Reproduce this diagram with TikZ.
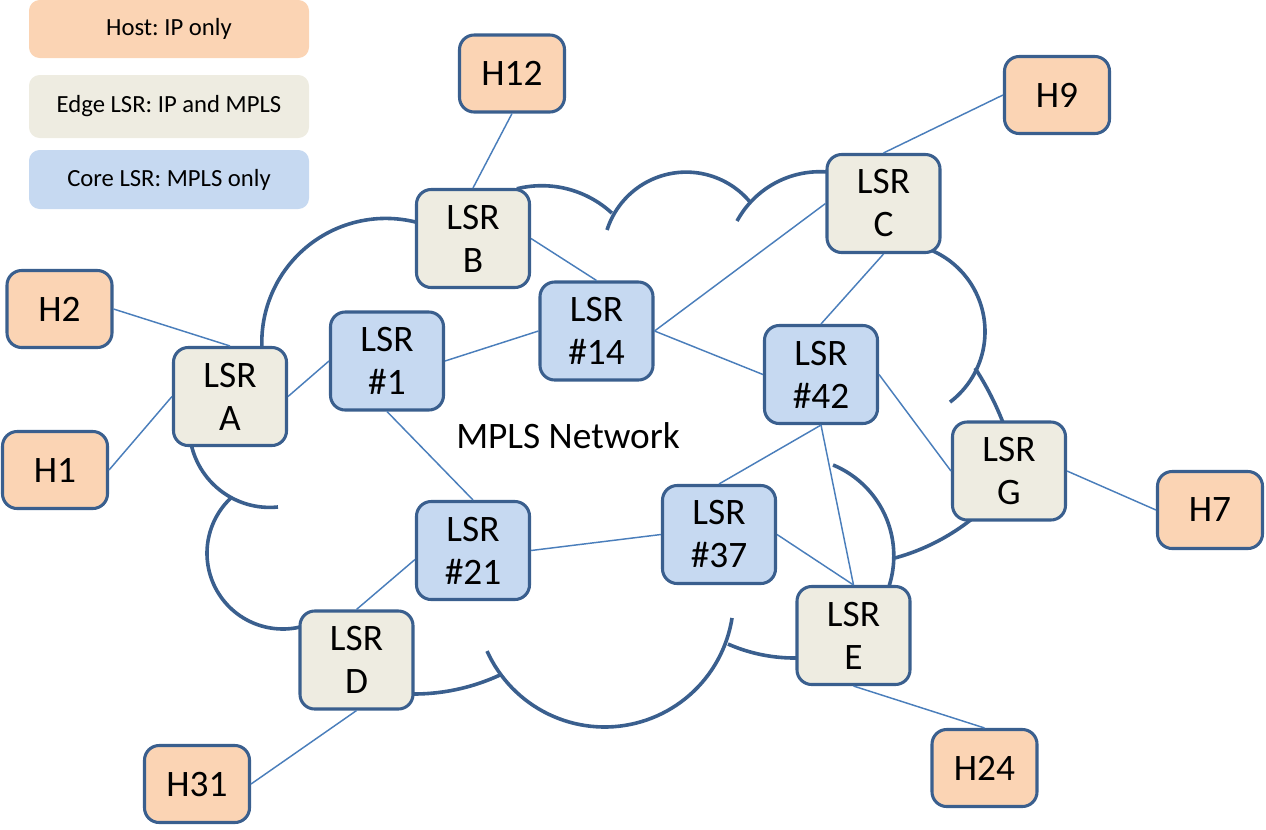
\documentclass[tikz,border=0pt]{standalone}
\usepackage{fontspec}
\setmainfont{Carlito}
\frenchspacing
\definecolor{cloudblue}{HTML}{3A5F8E}
\definecolor{boxblue}{HTML}{3A5F8E}
\definecolor{linkblue}{HTML}{4A7EBB}
\definecolor{hostfill}{HTML}{FBD4B4}
\definecolor{edgefill}{HTML}{EEECE1}
\definecolor{corefill}{HTML}{C6D9F1}
\newcommand\lsrfont{\fontsize{28}{32.25}\selectfont}
\newcommand\legfont{\fontsize{18.5}{22}\selectfont}
\newcommand\netfont{\fontsize{28}{32}\selectfont}
% cloud arc: centre x, centre y, radius, start angle, end angle (picture coordinates, y down)
\newcommand\cloudarc[5]{\draw[cloudline] plot[domain=#4:#5, samples=60, variable=\t] ({#1+#3*cos(\t)},{#2+#3*sin(\t)});}
\begin{document}
\begin{tikzpicture}[x=0.75pt,y=-0.75pt,
  cloudline/.style={draw=cloudblue, line width=2.7pt},
  link/.style={draw=linkblue, line width=1.1pt},
  lsrbase/.style={draw=boxblue, line width=2.3pt, rounded corners=11pt,
    minimum width=84.75pt, minimum height=73.5pt, align=center,
    font=\lsrfont, inner sep=0pt},
  edgelsr/.style={lsrbase, fill=edgefill},
  corelsr/.style={lsrbase, fill=corefill},
  hostbox/.style={draw=boxblue, line width=2.3pt, rounded corners=11pt,
    minimum width=78.75pt, minimum height=57.75pt, fill=hostfill,
    font=\lsrfont, inner sep=0pt},
  legendbox/.style={rounded corners=8pt, minimum width=210pt,
    font=\legfont, inner sep=0pt}]
\useasboundingbox (0,0) rectangle (1266,829);

% legend
\node[legendbox, fill=hostfill, minimum height=43.5pt] (lhost) at (169,29) {Host: IP only};
\node[legendbox, fill=edgefill, minimum height=47.25pt] (ledge) at (169,106.5) {Edge LSR: IP and MPLS};
\node[legendbox, fill=corefill, minimum height=44.25pt] (lcore) at (169,179.5) {Core LSR: MPLS only};

% cloud (outline lobes, drawn before the boxes that cover their ends)
\cloudarc{385.8}{342.4}{124}{175}{287}
\cloudarc{541.8}{289}{103.3}{256}{312.7}
\cloudarc{686.2}{255.2}{83.1}{197.7}{320.2}
\cloudarc{819.9}{266}{94.3}{208.5}{276}
\cloudarc{896.5}{331.6}{88.5}{-66}{52.8}
\cloudarc{721.9}{532.4}{301.8}{-33}{-21}
\cloudarc{838.3}{351}{214.6}{51}{74.7}
\cloudarc{795.4}{555.9}{98.4}{-67.5}{19}
\cloudarc{794.5}{492.5}{165.5}{87}{113.7}
\cloudarc{604.6}{598}{129}{8.9}{155.7}
\cloudarc{413.7}{488.6}{205.4}{65.2}{92}
\cloudarc{282.8}{553.2}{75.8}{75}{227.9}
\cloudarc{269.7}{427}{80.4}{84.1}{168}

% nodes
\node[edgelsr] (A) at (230,396.5) {LSR\\A};
\node[edgelsr] (B) at (473,238.5) {LSR\\B};
\node[edgelsr] (C) at (883.5,203.5) {LSR\\C};
\node[edgelsr] (D) at (356.5,660) {LSR\\D};
\node[edgelsr] (E) at (853.5,635.5) {LSR\\E};
\node[edgelsr] (G) at (1009,471) {LSR\\G};
\node[corelsr] (r1) at (387,361) {LSR\\\#1};
\node[corelsr] (r14) at (596.5,331) {LSR\\\#14};
\node[corelsr] (r42) at (821,374.5) {LSR\\\#42};
\node[corelsr] (r21) at (473,550.5) {LSR\\\#21};
\node[corelsr] (r37) at (719,534.5) {LSR\\\#37};
\node[hostbox] (h12) at (512,73.5) {H12};
\node[hostbox] (h9) at (1057,95) {H9};
\node[hostbox] (h2) at (59.5,309) {H2};
\node[hostbox] (h1) at (55,470) {H1};
\node[hostbox] (h7) at (1210,510) {H7};
\node[hostbox] (h31) at (197,784) {H31};
\node[hostbox] (h24) at (984.5,768) {H24};
\node[font=\netfont] (net) at (568,436) {MPLS Network};

% connectors
\draw[link] (h12.south) -- (B.north);
\draw[link] (h9.west) -- (C.north);
\draw[link] (h2.east) -- (A.north);
\draw[link] (h1.east) -- (A.west);
\draw[link] (A.east) -- (r1.west);
\draw[link] (r1.east) -- (r14.west);
\draw[link] (B.east) -- (r14.north);
\draw[link] (r1.south) -- (r21.north);
\draw[link] (r14.east) -- (C.west);
\draw[link] (r14.east) -- (r42.west);
\draw[link] (C.south) -- (r42.north);
\draw[link] (r42.east) -- (G.west);
\draw[link] (r42.south) -- (r37.north);
\draw[link] (r42.south) -- (E.north);
\draw[link] (r37.east) -- (E.north);
\draw[link] (r21.east) -- (r37.west);
\draw[link] ([yshift=-6.75pt]r21.west) -- (D.north);
\draw[link] (G.east) -- (h7.west);
\draw[link] (D.south) -- (h31.east);
\draw[link] (E.south) -- (h24.north);
\end{tikzpicture}
\end{document}
